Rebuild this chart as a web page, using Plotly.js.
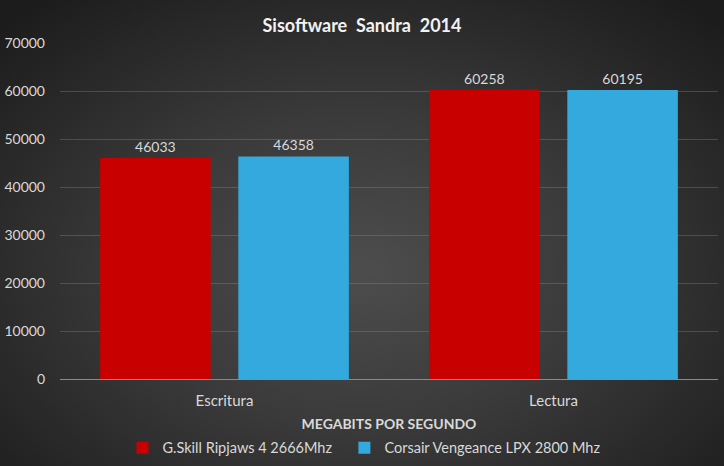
<!DOCTYPE html>
<html>
<head>
<meta charset="utf-8">
<script src="https://cdn.plot.ly/plotly-3.0.1.min.js"></script>
<style>
html,body{margin:0;padding:0;}
body{width:724px;height:466px;overflow:hidden;
background: radial-gradient(ellipse 70% 75% at 50% 58%, #4d4d4d 0%, #3a3a3a 45%, #242424 85%, #1c1c1c 100%);}
#chart{width:724px;height:466px;}
</style>
</head>
<body>
<div id="chart"></div>
<script>
const categories = ["Escritura", "Lectura"];
const gskill = [46033, 60258];
const corsair = [46358, 60195];
const seriesNames = ["G.Skill Ripjaws 4 2666Mhz", "Corsair Vengeance LPX 2800 Mhz"];
const yTicks = [0, 10000, 20000, 30000, 40000, 50000, 60000, 70000];

const FONT = "Lato, 'Open Sans', sans-serif";
const labelFont = {family: FONT, size: 14, color: "#d9d9d9"};

const traces = [
  {type: "bar", x: categories, y: gskill, name: seriesNames[0] + "\u00a0\u00a0",
   marker: {color: "#c80000"}, text: gskill.map(String), textposition: "outside",
   textfont: labelFont, cliponaxis: false, hoverinfo: "none"},
  {type: "bar", x: categories, y: corsair, name: seriesNames[1],
   marker: {color: "#33a9dd"}, text: corsair.map(String), textposition: "outside",
   textfont: labelFont, cliponaxis: false, hoverinfo: "none"}
];

const layout = {
  width: 724, height: 466,
  paper_bgcolor: "rgba(0,0,0,0)", plot_bgcolor: "rgba(0,0,0,0)",
  margin: {l: 60, r: 6, t: 43, b: 87, autoexpand: false},
  font: {family: FONT, color: "#d9d9d9"},
  title: {text: "<b>Sisoftware  Sandra  2014</b>", x: 0.5, xref: "container", xanchor: "center",
          y: 0.958, yref: "container", font: {family: FONT, size: 18, color: "#f2f2f2"}},
  barmode: "group", bargap: 0.16, bargroupgap: 0.2,
  xaxis: {type: "category", showgrid: false, showline: true, linecolor: "#8a8a8a", linewidth: 1,
          ticks: "", ticklabelstandoff: 8, tickfont: {family: FONT, size: 15, color: "#d9d9d9"},
          title: {text: "<b>MEGABITS POR SEGUNDO</b>", standoff: 11,
                  font: {family: FONT, size: 14, color: "#d9d9d9"}}},
  yaxis: {range: [0, 70000], tickvals: yTicks, ticktext: yTicks.map(String),
          showgrid: true, gridcolor: "rgba(140,140,140,0.35)", gridwidth: 1,
          zeroline: false, showline: false, ticks: "", ticklabelstandoff: 14,
          tickfont: {family: FONT, size: 14, color: "#d9d9d9"}},
  showlegend: true,
  legend: {orientation: "h", x: 0.462, xanchor: "center", y: -0.205, yanchor: "middle",
           font: {family: FONT, size: 14.5, color: "#d9d9d9"}, itemwidth: 30,
           bgcolor: "rgba(0,0,0,0)"}
};

Plotly.newPlot("chart", traces, layout, {displayModeBar: false, staticPlot: true});
</script>
</body>
</html>
